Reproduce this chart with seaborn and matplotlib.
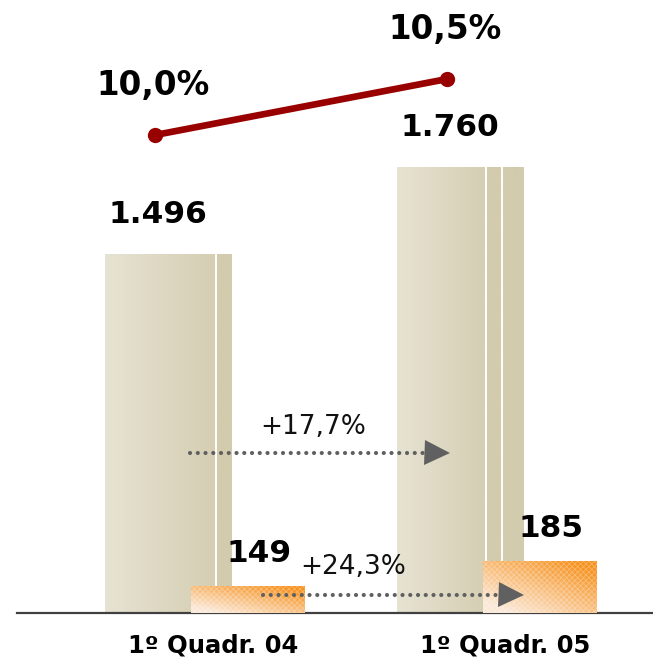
import numpy as np
import pandas as pd
import seaborn as sns
import matplotlib.pyplot as plt
from matplotlib.colors import to_rgb
from matplotlib.patches import Rectangle

# dados do gráfico
periods = ['1º Quadr. 04', '1º Quadr. 05']
receita = [1496, 1760]
receita_labels = ['1.496', '1.760']
resultado = [149, 185]
resultado_labels = ['149', '185']
margem = [10.0, 10.5]
margem_labels = ['10,0%', '10,5%']
growth_labels = ['+17,7%', '+24,3%']

sns.set_theme(style='white')
plt.rcParams['font.family'] = ['DejaVu Sans']
plt.rcParams['hatch.linewidth'] = 0.6

pos = np.arange(len(periods))
df = pd.DataFrame({'pos': pos, 'receita': receita, 'resultado': resultado, 'margem': margem})
df['x_receita'] = df['pos'] - 0.152
df['x_resultado'] = df['pos'] + 0.12
df['x_margem'] = df['pos'] - 0.197

fig = plt.figure(figsize=(6.53, 6.60), dpi=100)
ax = fig.add_axes([17 / 653, 47 / 660, 636 / 653, 613 / 660])
ax2 = ax.twinx()
ax3 = ax.twinx()

# cada série tem a sua própria escala (o original não está à escala)
XLIM = (-0.671, 1.507)
YLIM1 = (406.6, 2266.7)
YLIM2 = (110.1, 992.8)
YLIM3 = (5.732, 11.205)


def set_limits():
    for a in (ax, ax2, ax3):
        a.set_xlim(XLIM)
    ax.set_ylim(YLIM1)
    ax2.set_ylim(YLIM2)
    ax3.set_ylim(YLIM3)


# barras bege (receita)
sns.barplot(data=df, x='x_receita', y='receita', native_scale=True, width=0.433,
            errorbar=None, color='#ddd8c2', linewidth=0, ax=ax)
# barras laranja (resultado)
sns.barplot(data=df, x='x_resultado', y='resultado', native_scale=True, width=0.389,
            errorbar=None, color='#f7a24a', linewidth=0, ax=ax2)
set_limits()

# gradiente bege com faces laterais
left_c = np.array(to_rgb('#e7e3d3'))
right_c = np.array(to_rgb('#d5ceb3'))
side_c = np.array(to_rgb('#d3cbad'))
dividers = [[0.873], [0.70, 0.83]]
N = 200
cols = np.linspace(0, 1, N)
for patch, divs in zip(ax.patches, dividers):
    x0, w, h = patch.get_x(), patch.get_width(), patch.get_height()
    yb = YLIM1[0]
    t = np.clip(cols / divs[0], 0, 1)
    row = left_c + (right_c - left_c) * t[:, None]
    row[cols > divs[0]] = side_c
    img = np.stack([row, row])
    im = ax.imshow(img, extent=[x0, x0 + w, yb, h], origin='lower', aspect='auto',
                   interpolation='bilinear', zorder=patch.get_zorder())
    im.set_clip_path(patch)
    patch.set_facecolor('none')
    ax.vlines([x0 + d * w for d in divs], yb, h, color='white', lw=1.4, zorder=3)

# gradiente laranja
light_c = np.array(to_rgb('#fbe8d6'))
orange_c = np.array(to_rgb('#f7921e'))
xx, yy = np.meshgrid(np.linspace(0, 1, 80), np.linspace(0, 1, 80))
tt = np.clip(0.6 * xx + 0.7 * yy - 0.15, 0, 1)
oimg = light_c + (orange_c - light_c) * tt[..., None]
for patch in ax2.patches:
    x0, w, h = patch.get_x(), patch.get_width(), patch.get_height()
    yb = YLIM2[0]
    im = ax2.imshow(oimg, extent=[x0, x0 + w, yb, h], origin='lower', aspect='auto',
                    interpolation='bilinear', zorder=patch.get_zorder())
    im.set_clip_path(patch)
    patch.set_facecolor('none')
    ax2.add_patch(Rectangle((x0, yb), w, h - yb, fill=False, hatch='xxxxxx',
                            edgecolor=(1, 1, 1, 0.3), lw=0, zorder=3))

# linha da margem
sns.lineplot(data=df, x='x_margem', y='margem', color='#990000', lw=4.8,
             marker='o', markersize=11, markeredgewidth=0, ax=ax3)

# rótulos de valores
for xr, v, lab in zip(df['x_receita'], receita, receita_labels):
    ax.annotate(lab, (xr, v), xytext=(-8, 18), textcoords='offset points',
                ha='center', va='bottom', fontsize=22.5, fontweight='bold', color='black')
for xr, v, lab in zip(df['x_resultado'], resultado, resultado_labels):
    ax2.annotate(lab, (xr, v), xytext=(8, 13), textcoords='offset points',
                 ha='center', va='bottom', fontsize=22.5, fontweight='bold', color='black')
for xr, v, lab in zip(df['x_margem'], margem, margem_labels):
    ax3.annotate(lab, (xr, v), xytext=(-2, 24), textcoords='offset points',
                 ha='center', va='bottom', fontsize=23.5, fontweight='bold', color='black')

# setas de crescimento
trans = ax3.get_xaxis_transform()
arrows = [(-0.079, 0.726, 0.769, 0.261, 0.342, 0.303),
          (0.171, 0.972, 1.021, 0.029, 0.479, 0.075)]
for (xs, xe, xh, yf, xt, yt), lab in zip(arrows, growth_labels):
    ax3.plot([xs, xe], [yf, yf], transform=trans, color='#606060', lw=3,
             linestyle=(0, (0.01, 1.85)), dash_capstyle='round')
    ax3.plot([xh], [yf], transform=trans, marker='>', markersize=18,
             color='#606060', lw=0, markeredgewidth=0)
    ax3.text(xt, yt, lab, transform=trans, ha='center', va='center',
             fontsize=19, color='#111111')

set_limits()
for a in (ax2, ax3):
    a.axis('off')
ax.set_xlabel('')
ax.set_ylabel('')
ax.set_yticks([])
ax.set_xticks(pos)
ax.set_xticklabels(periods, fontsize=17.5, fontweight='bold', color='black')
ax.tick_params(axis='x', length=0, pad=15)
for side in ('left', 'right', 'top'):
    ax.spines[side].set_visible(False)
ax.spines['bottom'].set_color('#404040')
ax.spines['bottom'].set_linewidth(1.6)

fig.savefig('out.png', dpi=100)
